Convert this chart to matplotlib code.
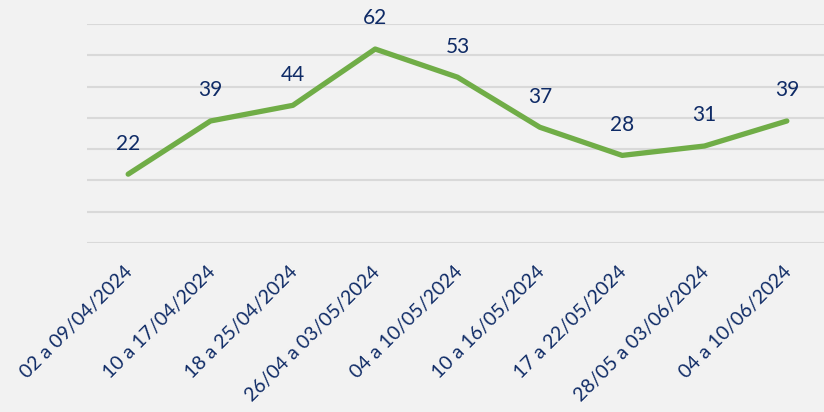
import matplotlib.pyplot as plt
from matplotlib.transforms import ScaledTranslation

# Data
periods = ['02 a 09/04/2024', '10 a 17/04/2024', '18 a 25/04/2024',
           '26/04 a 03/05/2024', '04 a 10/05/2024', '10 a 16/05/2024',
           '17 a 22/05/2024', '28/05 a 03/06/2024', '04 a 10/06/2024']
values = [22, 39, 44, 62, 53, 37, 28, 31, 39]

BG = '#F2F2F2'
TXT = '#0F2B66'

plt.rcParams['font.family'] = ['Lato', 'DejaVu Sans']

fig = plt.figure(figsize=(8.24, 4.12), dpi=100, facecolor=BG)
ax = fig.add_axes([87 / 824, 1 - 243 / 412, 741 / 824, 219 / 412])
ax.set_facecolor(BG)

x = list(range(len(periods)))
ax.plot(x, values, color='#70AD47', linewidth=3.8, solid_capstyle='round', zorder=3)

for xi, v in zip(x, values):
    ax.annotate(str(v), (xi, v), xytext=(0, 22), textcoords='offset points',
                ha='center', va='center', fontsize=15, color=TXT)

ax.set_xlim(-0.5, len(periods) - 0.5)
ax.set_ylim(0, 70)
ax.set_yticks(range(0, 71, 10))
ax.yaxis.grid(True, color='#D9D9D9', linewidth=1.5)
ax.set_axisbelow(True)
ax.tick_params(left=False, labelleft=False, bottom=False)
for s in ax.spines.values():
    s.set_visible(False)

ax.set_xticks(x)
ax.set_xticklabels(periods, rotation=45, ha='right', rotation_mode='anchor',
                   fontsize=14, color=TXT)
ax.tick_params(axis='x', pad=11)
shift = ScaledTranslation(-4 / 100, 0, fig.dpi_scale_trans)
for lbl in ax.get_xticklabels():
    lbl.set_transform(lbl.get_transform() + shift)

fig.savefig('out.png', dpi=100, facecolor=BG)
